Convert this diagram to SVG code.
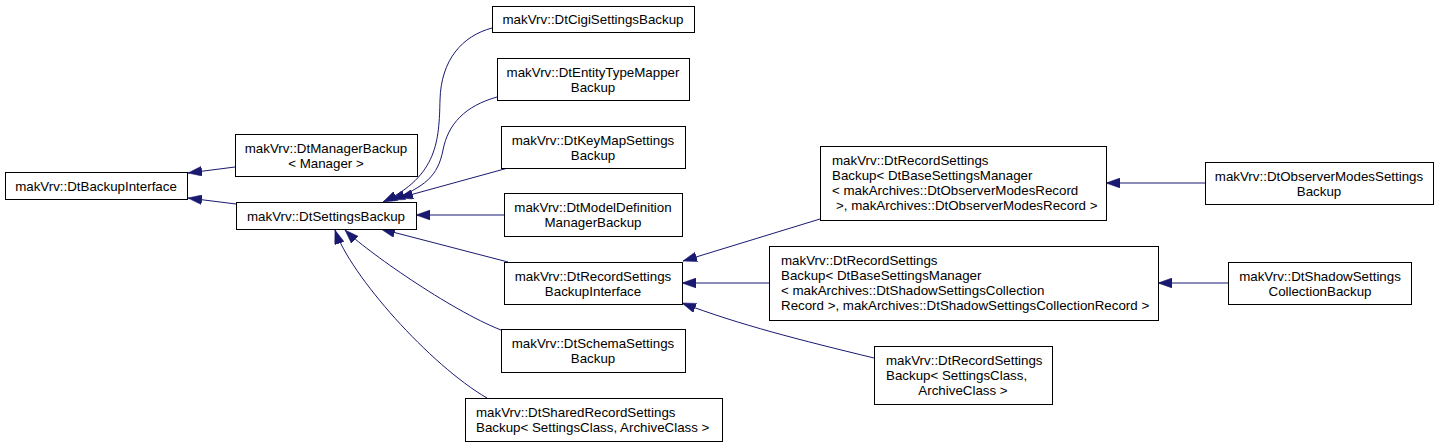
<svg xmlns="http://www.w3.org/2000/svg" width="1438" height="447" viewBox="0 0 1438 447">
<style>
  .box { fill: #ffffff; stroke: #000000; stroke-width: 1; }
  .t { font-family: "Liberation Sans", Arial, sans-serif; font-size: 13.33px; fill: #000000; }
  .c { text-anchor: middle; }
  .e { fill: none; stroke: #191970; stroke-width: 1; marker-end: url(#arr); }
</style>
<defs>
  <marker id="arr" markerUnits="userSpaceOnUse" markerWidth="14" markerHeight="10" viewBox="0 0 13.33 9.33" refX="13.33" refY="4.67" orient="auto">
    <path d="M0,0 L13.33,4.67 L0,9.33 z" fill="#191970" stroke="#191970" stroke-width="0.5"/>
  </marker>
</defs>
<rect width="1438" height="447" fill="#ffffff"/>
<g id="connectors">
  <path class="e" d="M235,167 L188,173"/>
  <path class="e" d="M236,204 L188,198"/>
  <path class="e" d="M492,28 C462,36 441,60 440,100 C439,140 438,176 383,202"/>
  <path class="e" d="M497,97 C465,106 448,124 443,150 C438,176 425,187 391,200"/>
  <path class="e" d="M508,168 L399,198"/>
  <path class="e" d="M504,215 L416,215"/>
  <path class="e" d="M508,262 L381,229"/>
  <path class="e" d="M501,330 C450,310 365,250 345,230"/>
  <path class="e" d="M487,398 C430,365 350,275 335,230"/>
  <path class="e" d="M820,219 L683,261"/>
  <path class="e" d="M769,283 L682,283"/>
  <path class="e" d="M874,358 C800,340 740,325 682,303"/>
  <path class="e" d="M1205,183 L1106,183"/>
  <path class="e" d="M1228,283 L1158,283"/>
</g>
<g id="DtBackupInterface">
  <rect class="box" x="5.5" y="172.5" width="182" height="27"/>
  <text class="t c" x="96" y="190.5">makVrv::DtBackupInterface</text>
</g>
<g id="DtManagerBackup">
  <rect class="box" x="235.5" y="134.5" width="182" height="42"/>
  <text class="t c" x="326" y="152.5">makVrv::DtManagerBackup</text>
  <text class="t c" x="326" y="167.5">&lt; Manager &gt;</text>
</g>
<g id="DtSettingsBackup">
  <rect class="box" x="236.5" y="202.5" width="180" height="27"/>
  <text class="t c" x="326" y="220.5">makVrv::DtSettingsBackup</text>
</g>
<g id="DtCigiSettingsBackup">
  <rect class="box" x="492.5" y="6.5" width="202" height="26"/>
  <text class="t c" x="593" y="24">makVrv::DtCigiSettingsBackup</text>
</g>
<g id="DtEntityTypeMapperBackup">
  <rect class="box" x="497.5" y="58.5" width="192" height="42"/>
  <text class="t c" x="593" y="76.5">makVrv::DtEntityTypeMapper</text>
  <text class="t c" x="593" y="91.5">Backup</text>
</g>
<g id="DtKeyMapSettingsBackup">
  <rect class="box" x="501.5" y="126.5" width="184" height="42"/>
  <text class="t c" x="593" y="144.5">makVrv::DtKeyMapSettings</text>
  <text class="t c" x="593" y="159.5">Backup</text>
</g>
<g id="DtModelDefinitionManagerBackup">
  <rect class="box" x="504.5" y="193.5" width="178" height="43"/>
  <text class="t c" x="593" y="211.5">makVrv::DtModelDefinition</text>
  <text class="t c" x="593" y="226.5">ManagerBackup</text>
</g>
<g id="DtRecordSettingsBackupInterface">
  <rect class="box" x="504.5" y="262.5" width="178" height="42"/>
  <text class="t c" x="593" y="280.5">makVrv::DtRecordSettings</text>
  <text class="t c" x="593" y="295.5">BackupInterface</text>
</g>
<g id="DtSchemaSettingsBackup">
  <rect class="box" x="501.5" y="329.5" width="184" height="43"/>
  <text class="t c" x="593" y="347.5">makVrv::DtSchemaSettings</text>
  <text class="t c" x="593" y="362.5">Backup</text>
</g>
<g id="DtSharedRecordSettingsBackup">
  <rect class="box" x="465.5" y="398.5" width="257" height="43"/>
  <text class="t" x="476" y="416.5">makVrv::DtSharedRecordSettings</text>
  <text class="t" x="476" y="431.5">Backup&lt; SettingsClass, ArchiveClass &gt;</text>
</g>
<g id="DtRecordSettingsBackupObserverModes">
  <rect class="box" x="820.5" y="146.5" width="286" height="74"/>
  <text class="t" x="832" y="164.5">makVrv::DtRecordSettings</text>
  <text class="t" x="832" y="179.5">Backup&lt; DtBaseSettingsManager</text>
  <text class="t" x="832" y="194.5">&lt; makArchives::DtObserverModesRecord</text>
  <text class="t" x="836" y="209.5">&gt;, makArchives::DtObserverModesRecord &gt;</text>
</g>
<g id="DtRecordSettingsBackupShadow">
  <rect class="box" x="769.5" y="246.5" width="389" height="74"/>
  <text class="t" x="781" y="264.5">makVrv::DtRecordSettings</text>
  <text class="t" x="781" y="279.5">Backup&lt; DtBaseSettingsManager</text>
  <text class="t" x="781" y="294.5">&lt; makArchives::DtShadowSettingsCollection</text>
  <text class="t" x="781" y="309.5">Record &gt;, makArchives::DtShadowSettingsCollectionRecord &gt;</text>
</g>
<g id="DtRecordSettingsBackupGeneric">
  <rect class="box" x="874.5" y="346.5" width="178" height="58"/>
  <text class="t" x="886" y="364.5">makVrv::DtRecordSettings</text>
  <text class="t" x="886" y="379.5">Backup&lt; SettingsClass,</text>
  <text class="t c" x="963" y="394.5">ArchiveClass &gt;</text>
</g>
<g id="DtObserverModesSettingsBackup">
  <rect class="box" x="1205.5" y="162.5" width="228" height="42"/>
  <text class="t c" x="1319" y="180.5">makVrv::DtObserverModesSettings</text>
  <text class="t c" x="1319" y="195.5">Backup</text>
</g>
<g id="DtShadowSettingsCollectionBackup">
  <rect class="box" x="1228.5" y="262.5" width="183" height="42"/>
  <text class="t c" x="1320" y="280.5">makVrv::DtShadowSettings</text>
  <text class="t c" x="1320" y="295.5">CollectionBackup</text>
</g>
</svg>
